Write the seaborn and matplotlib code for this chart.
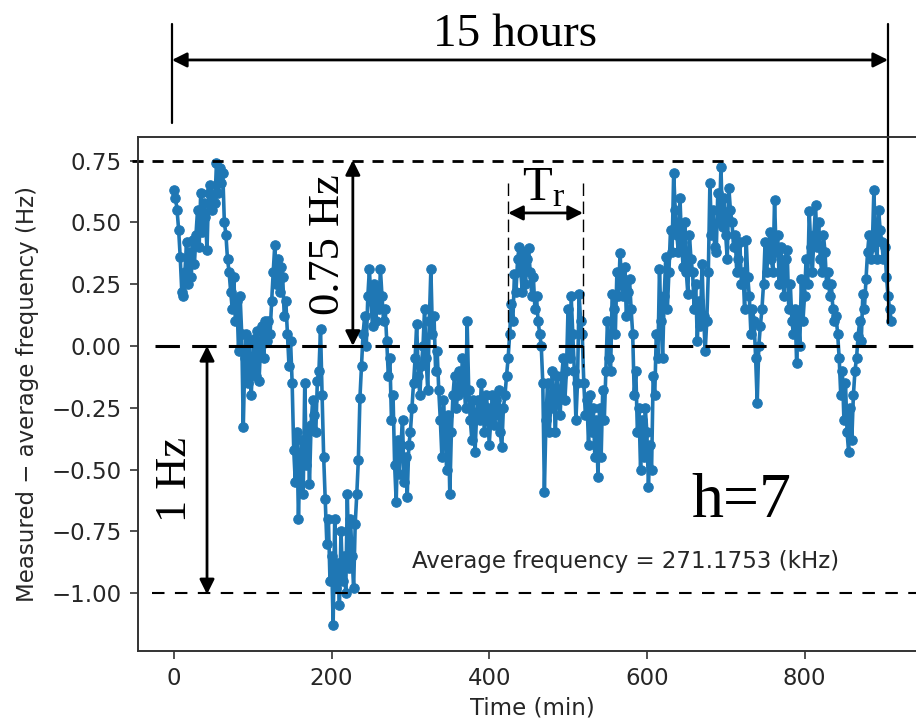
import numpy as np
import pandas as pd
import matplotlib
matplotlib.use("Agg")
import matplotlib.pyplot as plt
import seaborn as sns

# ---- data ----
sample_step_min = 2.0
freq_dev_hz = [
    0.63, 0.60, 0.55, 0.47, 0.36, 0.22, 0.20, 0.30, 0.42, 0.25, 0.38, 0.28, 0.43, 0.33, 0.45,
    0.55, 0.40, 0.62, 0.46, 0.58, 0.52, 0.39, 0.62, 0.65, 0.55, 0.61, 0.58, 0.74, 0.62, 0.72,
    0.66, 0.70, 0.50, 0.45, 0.35, 0.30, 0.22, 0.15, 0.28, 0.10, 0.18, -0.02, 0.20, 0.05, -0.33,
    -0.05, 0.05, -0.15, 0.02, -0.20, -0.08, 0.03, -0.12, 0.06, -0.14, 0.00, 0.08, -0.05, 0.10, 0.02,
    0.10, 0.05, 0.18, 0.30, 0.41, 0.25, 0.35, 0.22, 0.32, 0.28, 0.12, 0.18, 0.05, -0.08, 0.02,
    -0.15, -0.42, -0.55, -0.35, -0.70, -0.45, -0.38, -0.60, -0.15, -0.48, -0.35, -0.56, -0.32, -0.22, -0.28,
    -0.35, -0.14, -0.10, 0.07, -0.20, -0.45, -0.62, -0.80, -0.70, -0.95, -0.85, -1.13, -0.70, -0.98, -0.88,
    -1.05, -0.75, -0.95, -0.85, -1.00, -0.60, -0.90, -0.70, -0.85, -0.98, -0.72, -0.60, -0.46, -0.21, -0.08,
    0.05, 0.12, 0.00, 0.20, 0.31, 0.18, 0.08, 0.25, 0.10, 0.22, 0.15, 0.31, 0.20, 0.10, 0.15,
    0.02, -0.12, -0.05, -0.30, -0.20, -0.48, -0.63, -0.38, -0.52, -0.40, -0.30, -0.55, -0.45, -0.61, -0.40,
    -0.35, -0.25, -0.15, -0.05, 0.09, -0.12, -0.20, -0.08, 0.00, 0.15, -0.05, -0.18, 0.10, 0.31, 0.05,
    0.12, -0.10, -0.02, -0.18, -0.30, -0.45, -0.22, -0.35, -0.50, -0.28, -0.60, -0.35, -0.20, -0.12, -0.25,
    -0.20, -0.10, -0.18, -0.05, -0.15, -0.25, 0.10, -0.18, -0.30, -0.38, -0.22, -0.43, -0.28, -0.22, -0.30,
    -0.15, -0.25, -0.35, -0.20, -0.25, -0.40, -0.30, -0.20, -0.32, -0.22, -0.28, -0.18, -0.35, -0.41, -0.25,
    -0.20, -0.12, -0.05, 0.05, 0.17, 0.10, 0.29, 0.22, 0.35, 0.40, 0.30, 0.22, 0.38, 0.25, 0.35,
    0.395, 0.30, 0.20, 0.28, 0.15, 0.20, 0.10, 0.05, 0.00, -0.15, -0.59, -0.30, -0.15, -0.35, -0.25,
    -0.10, -0.20, -0.35, -0.12, -0.20, -0.28, -0.12, -0.05, -0.22, -0.10, 0.15, -0.05, 0.20, 0.05, -0.10,
    -0.30, -0.15, 0.21, 0.10, 0.05, -0.15, -0.28, -0.22, -0.40, -0.20, -0.35, -0.25, -0.45, -0.30, -0.53,
    -0.25, -0.45, -0.18, -0.30, -0.10, 0.10, -0.05, -0.10, 0.21, 0.15, 0.05, 0.30, 0.20, 0.375, 0.25,
    0.20, 0.32, 0.12, 0.22, 0.27, 0.15, 0.05, -0.20, -0.10, -0.35, -0.25, -0.50, -0.30, -0.45, -0.25,
    -0.35, -0.57, -0.40, -0.50, -0.12, -0.20, 0.05, -0.05, 0.31, 0.10, -0.05, 0.20, 0.36, 0.15, 0.30,
    0.47, 0.38, 0.70, 0.55, 0.45, 0.38, 0.60, 0.42, 0.32, 0.50, 0.30, 0.21, 0.45, 0.35, 0.30,
    0.15, 0.25, 0.02, 0.18, 0.08, 0.33, 0.12, -0.02, 0.10, 0.30, 0.66, 0.45, 0.55, 0.40, 0.38,
    0.62, 0.50, 0.725, 0.48, 0.60, 0.45, 0.35, 0.64, 0.55, 0.50, 0.40, 0.45, 0.30, 0.35, 0.42,
    0.25, 0.30, 0.15, 0.43, 0.28, 0.20, 0.05, 0.15, 0.10, -0.05, -0.23, 0.00, 0.08, 0.15, 0.25,
    0.42, 0.30, 0.38, 0.46, 0.35, 0.30, 0.59, 0.38, 0.45, 0.25, 0.40, 0.30, 0.20, 0.35, 0.39,
    0.15, 0.25, 0.10, 0.05, 0.15, -0.07, 0.12, 0.00, 0.27, 0.10, 0.20, 0.35, 0.25, 0.545, 0.40,
    0.30, 0.45, 0.57, 0.40, 0.50, 0.35, 0.30, 0.45, 0.38, 0.25, 0.30, 0.20, 0.25, 0.15, 0.10,
    0.12, 0.05, -0.05, -0.20, -0.10, -0.30, -0.15, -0.35, -0.43, -0.25, -0.38, -0.20, -0.10, -0.05, 0.04,
    0.10, 0.02, 0.21, 0.15, 0.27, 0.38, 0.45, 0.35, 0.40, 0.63, 0.42, 0.35, 0.55, 0.47, 0.42,
    0.35, 0.40, 0.28, 0.20, 0.15, 0.10,
]
time_min = np.arange(len(freq_dev_hz)) * sample_step_min

x_ticks = [0, 200, 400, 600, 800]
y_ticks = [0.75, 0.50, 0.25, 0.00, -0.25, -0.50, -0.75, -1.00]
avg_text = "Average frequency = 271.1753 (kHz)"
x_label = "Time (min)"
y_label = "Measured \u2212 average frequency (Hz)"

df = pd.DataFrame({"t": time_min, "f": freq_dev_hz})

sns.set_style("ticks")
plt.rcParams["font.family"] = ["DejaVu Sans"]
serif = ["Liberation Serif", "DejaVu Serif"]
FS = 16.5
BLUE = "#1f77b4"

fig = plt.figure(figsize=(9.16, 7.22), dpi=100)
ax = fig.add_axes([0.1507, 0.0988, 0.8614, 0.7110])

sns.lineplot(data=df, x="t", y="f", ax=ax, color=BLUE, marker="o",
             linewidth=2.6, estimator=None)
data_line = ax.lines[0]
data_line.set_markersize(6.8)
data_line.set_markeredgewidth(0.8)
data_line.set_markeredgecolor(BLUE)
data_line.set_markerfacecolor(BLUE)

ax.set_xlim(-45.5, 955.5)
ax.set_ylim(-1.233, 0.844)
ax.set_xticks(x_ticks)
ax.set_yticks(y_ticks)
ax.set_yticklabels([f"{v:.2f}".replace("-", "\u2212") for v in y_ticks])
ax.set_xlabel(x_label, fontsize=FS, labelpad=5, color="#262626")
ax.set_ylabel(y_label, fontsize=FS, labelpad=9, color="#262626")
ax.tick_params(labelsize=FS, length=5.8, width=1.2, pad=6, color="#333333",
               labelcolor="#262626")
for s in ax.spines.values():
    s.set_linewidth(1.4)
    s.set_color("#333333")

# horizontal reference lines
ax.plot([-53, 910], [0.75, 0.75], color="k", lw=2.0, ls=(0, (4, 3.2)), clip_on=False)
ax.plot([-24, 980], [0.0, 0.0], color="k", lw=2.2, ls=(0, (8, 4)), clip_on=False)
ax.plot([-28, 980], [-1.0, -1.0], color="k", lw=1.5, ls=(0, (6, 5)), clip_on=False)

arrow = dict(arrowstyle="<|-|>", color="k", lw=2.0, mutation_scale=22,
             shrinkA=0, shrinkB=0)

# 0.75 Hz arrow
ax.annotate("", xy=(227, 0.752), xytext=(227, 0.0), arrowprops=arrow,
            annotation_clip=False)
ax.text(195, 0.41, "0.75 Hz", rotation=90, ha="center", va="center",
        fontsize=32, family=serif, color="k")

# 1 Hz arrow
ax.annotate("", xy=(42, 0.0), xytext=(42, -1.005), arrowprops=arrow,
            annotation_clip=False)
ax.text(1, -0.54, "1 Hz", rotation=90, ha="center", va="center",
        fontsize=32, family=serif, color="k")

# T_r marker
ax.plot([424, 424], [0.66, 0.0], color="k", lw=1.0, ls=(0, (9, 4)), clip_on=False)
ax.plot([519, 519], [0.66, -0.085], color="k", lw=1.0, ls=(0, (9, 4)), clip_on=False)
ax.annotate("", xy=(424, 0.538), xytext=(519, 0.538), arrowprops=arrow,
            annotation_clip=False)
ax.text(442, 0.59, r"$\mathregular{T_r}$", fontsize=35, family=serif,
        ha="left", va="baseline", color="k")

# 15 hours span
ax.plot([-2.5, -2.5], [1.303, 0.902], color="k", lw=1.6, clip_on=False)
ax.plot([906, 906], [1.303, 0.093], color="k", lw=1.6, clip_on=False)
ax.annotate("", xy=(-2.5, 1.157), xytext=(906, 1.157), arrowprops=arrow,
            annotation_clip=False)
ax.text(433, 1.215, "15 hours", fontsize=34, family=serif, ha="center",
        va="baseline", color="k")

# h=7 and average text
ax.text(657, -0.692, "h=7", fontsize=46, family=serif, ha="left",
        va="baseline", color="k")
ax.text(302, -0.874, avg_text, fontsize=FS, ha="left", va="center",
        color="#262626")

fig.savefig("out.png", dpi=100)
